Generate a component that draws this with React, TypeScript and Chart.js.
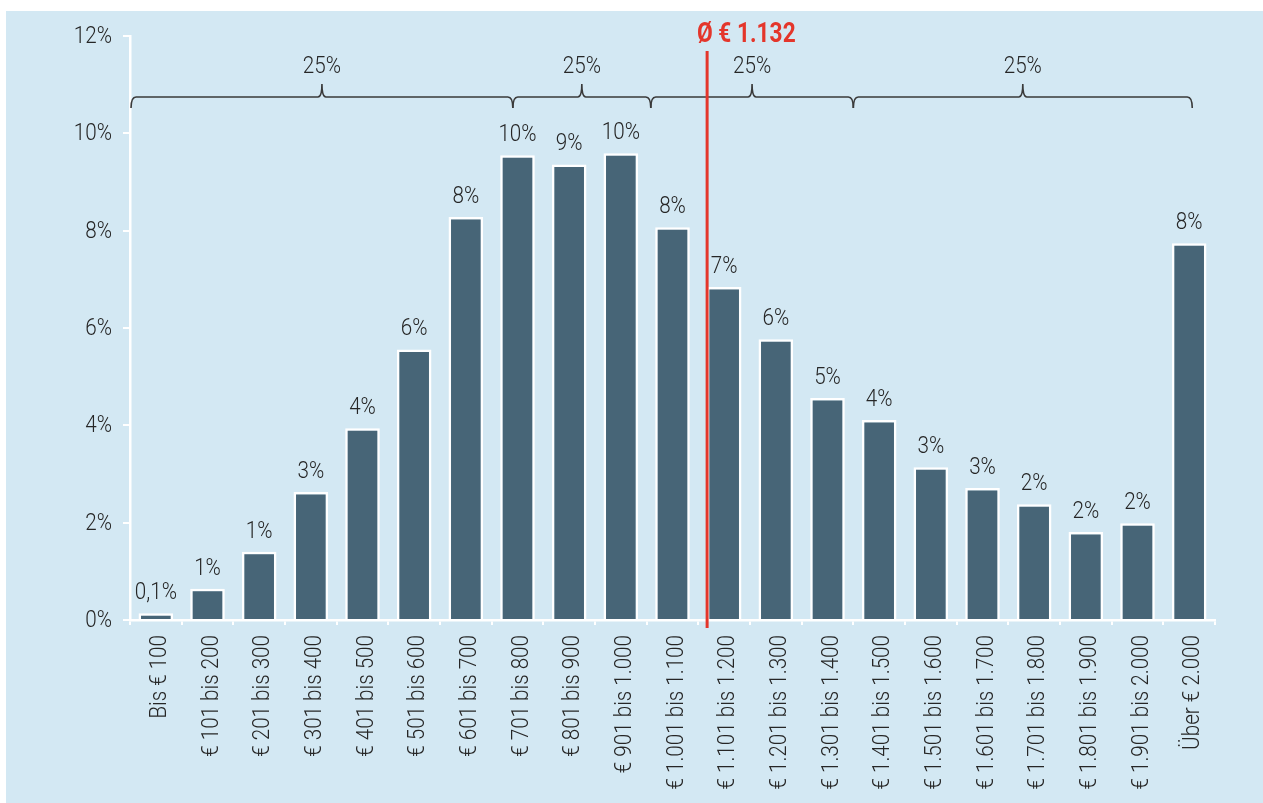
import React, { useEffect, useRef } from "react";
import { Chart, registerables } from "chart.js";

Chart.register(...registerables);

const categories: string[] = [
  "Bis € 100",
  "€ 101 bis 200",
  "€ 201 bis 300",
  "€ 301 bis 400",
  "€ 401 bis 500",
  "€ 501 bis 600",
  "€ 601 bis 700",
  "€ 701 bis 800",
  "€ 801 bis 900",
  "€ 901 bis 1.000",
  "€ 1.001 bis 1.100",
  "€ 1.101 bis 1.200",
  "€ 1.201 bis 1.300",
  "€ 1.301 bis 1.400",
  "€ 1.401 bis 1.500",
  "€ 1.501 bis 1.600",
  "€ 1.601 bis 1.700",
  "€ 1.701 bis 1.800",
  "€ 1.801 bis 1.900",
  "€ 1.901 bis 2.000",
  "Über € 2.000",
];

const shares: number[] = [
  0.14, 0.64, 1.4, 2.63, 3.94, 5.56, 8.28, 9.55, 9.36, 9.59, 8.07, 6.84, 5.77,
  4.56, 4.11, 3.14, 2.71, 2.38, 1.81, 1.99, 7.74,
];

const valueLabels: string[] = [
  "0,1%", "1%", "1%", "3%", "4%", "6%", "8%", "10%", "9%", "10%", "8%", "7%",
  "6%", "5%", "4%", "3%", "3%", "2%", "2%", "2%", "8%",
];

const yTicks: number[] = [0, 2, 4, 6, 8, 10, 12];

// quartile brackets, in category-index units
const bracketEdges: number[] = [-0.48, 6.91, 9.58, 13.5, 20.06];
const bracketLabels: string[] = ["25%", "25%", "25%", "25%"];

// average marker
const averagePosition = 10.67;
const averageLabel = "Ø € 1.132";

const FAMILY = "Roboto, 'DejaVu Sans', sans-serif";
const TEXT_FONT = `300 24px ${FAMILY}`;
const TEXT = "#262626";
const SX = 0.86;

function drawText(
  ctx: CanvasRenderingContext2D,
  text: string,
  x: number,
  y: number,
  o: { font?: string; align?: CanvasTextAlign; baseline?: CanvasTextBaseline; rot?: number; sx?: number; color?: string } = {}
) {
  ctx.save();
  ctx.translate(x, y);
  if (o.rot) ctx.rotate(o.rot);
  ctx.scale(o.sx ?? SX, 1);
  ctx.font = o.font ?? TEXT_FONT;
  ctx.textAlign = o.align ?? "center";
  ctx.textBaseline = o.baseline ?? "alphabetic";
  ctx.fillStyle = o.color ?? TEXT;
  ctx.fillText(text, 0, 0);
  ctx.restore();
}

export default function App() {
  const ref = useRef<HTMLCanvasElement | null>(null);

  useEffect(() => {
    if (!ref.current) return;

    const overlay = {
      id: "overlay",
      afterDatasetsDraw(chart: any) {
        const ctx: CanvasRenderingContext2D = chart.ctx;
        const xs = chart.scales.x;
        const ys = chart.scales.y;
        const meta = chart.getDatasetMeta(0);

        // value labels
        meta.data.forEach((bar: any, i: number) => {
          drawText(ctx, valueLabels[i], bar.x, bar.y - 14);
        });

        // y tick labels
        yTicks.forEach((v) => {
          drawText(ctx, `${v}%`, xs.left - 18, ys.getPixelForValue(v) + 1, {
            align: "right",
            baseline: "middle",
          });
        });

        // x category labels (rotated)
        categories.forEach((c, i) => {
          drawText(ctx, c, xs.getPixelForValue(i) + 10, ys.bottom + 15, {
            align: "right",
            rot: -Math.PI / 2,
          });
        });

        // brackets
        const yLine = 86;
        ctx.save();
        ctx.strokeStyle = "#3a3a3a";
        ctx.lineWidth = 1.6;
        for (let i = 0; i < bracketLabels.length; i++) {
          const x0 = xs.getPixelForValue(bracketEdges[i]);
          const x1 = xs.getPixelForValue(bracketEdges[i + 1]);
          const mid = (x0 + x1) / 2;
          ctx.beginPath();
          ctx.moveTo(x0, yLine + 11);
          ctx.quadraticCurveTo(x0, yLine, x0 + 5, yLine);
          ctx.lineTo(mid - 4, yLine);
          ctx.quadraticCurveTo(mid, yLine, mid, yLine - 13);
          ctx.quadraticCurveTo(mid, yLine, mid + 4, yLine);
          ctx.lineTo(x1 - 5, yLine);
          ctx.quadraticCurveTo(x1, yLine, x1, yLine + 11);
          ctx.stroke();
          ctx.restore();
          ctx.save();
          drawText(ctx, bracketLabels[i], mid, 62);
          ctx.strokeStyle = "#3a3a3a";
          ctx.lineWidth = 1.6;
        }
        ctx.restore();

        // average line
        const ax = xs.getPixelForValue(averagePosition);
        ctx.save();
        ctx.strokeStyle = "#e4362b";
        ctx.lineWidth = 3;
        ctx.beginPath();
        ctx.moveTo(ax, 40);
        ctx.lineTo(ax, ys.bottom + 8);
        ctx.stroke();
        ctx.restore();
        drawText(ctx, averageLabel, ax - 10, 31, {
          font: `bold 27px ${FAMILY}`,
          align: "left",
          color: "#e4362b",
          sx: 0.84,
        });
      },
    };

    const transparent = "rgba(0,0,0,0)";

    const chart = new Chart(ref.current, {
      type: "bar",
      data: {
        labels: categories,
        datasets: [
          {
            data: shares,
            backgroundColor: "#476577",
            borderColor: "#ffffff",
            borderWidth: 2.5,
            barPercentage: 0.67,
            categoryPercentage: 1,
          },
        ],
      },
      options: {
        animation: false,
        responsive: false,
        maintainAspectRatio: false,
        layout: { padding: { left: 0, top: 25, right: 48, bottom: 0 } },
        plugins: {
          legend: { display: false },
          tooltip: { enabled: false },
        },
        scales: {
          x: {
            offset: true,
            grid: {
              offset: true,
              drawOnChartArea: false,
              drawTicks: true,
              tickLength: 5,
              color: "#ffffff",
              lineWidth: 2,
            },
            border: { color: "#ffffff", width: 2.5 },
            ticks: {
              color: transparent,
              font: { size: 10 },
              maxRotation: 0,
              minRotation: 0,
              autoSkip: false,
            },
            afterFit(scale: any) {
              scale.height = 183;
            },
          },
          y: {
            min: 0,
            max: 12,
            afterBuildTicks(scale: any) {
              scale.ticks = yTicks.map((v) => ({ value: v }));
            },
            grid: {
              drawOnChartArea: false,
              drawTicks: true,
              tickLength: 7,
              color: "#ffffff",
              lineWidth: 2,
            },
            border: { color: "#ffffff", width: 2.5 },
            ticks: {
              color: transparent,
              font: { size: 10 },
            },
            afterFit(scale: any) {
              scale.width = 124;
            },
          },
        },
      },
      plugins: [overlay],
    });

    return () => chart.destroy();
  }, []);

  return (
    <div
      style={{
        position: "absolute",
        left: 6,
        top: 11,
        width: 1257,
        height: 792,
        background: "#d3e8f3",
      }}
    >
      <canvas ref={ref} width={1257} height={792} style={{ display: "block" }} />
    </div>
  );
}
